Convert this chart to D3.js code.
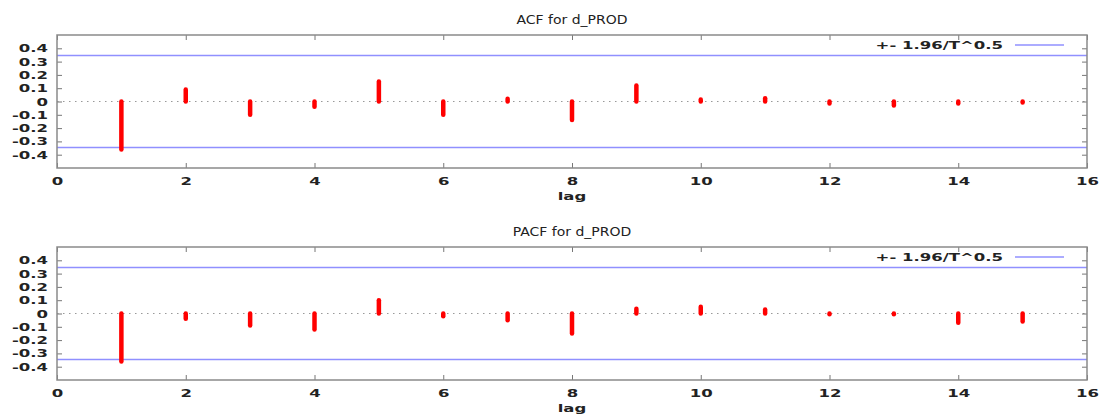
<!DOCTYPE html>
<html>
<head>
<meta charset="utf-8">
<script src="https://cdn.jsdelivr.net/npm/d3@7"></script>
<style>
  body { margin: 0; background: #fff; }
  text { font-family: "DejaVu Sans", sans-serif; fill: #222; }
</style>
</head>
<body>
<div class="chart-value"></div>
<script>
var lags = [1, 2, 3, 4, 5, 6, 7, 8, 9, 10, 11, 12, 13, 14, 15];
var acfValues = [-0.36, 0.09, -0.10, -0.04, 0.15, -0.10, 0.02, -0.14, 0.12, 0.015, 0.025, -0.015, -0.03, -0.015, -0.008];
var pacfValues = [-0.36, -0.04, -0.09, -0.12, 0.10, -0.02, -0.05, -0.15, 0.035, 0.05, 0.03, -0.005, -0.005, -0.07, -0.06];
var xTicks = [0, 2, 4, 6, 8, 10, 12, 14, 16];
var yTicks = [-0.4, -0.3, -0.2, -0.1, 0, 0.1, 0.2, 0.3, 0.4];
var band = 1.96 / Math.sqrt(32);
var legendLabel = "+- 1.96/T^0.5";

var width = 1104, height = 417;
var left = 57, right = 1087;
var stretch = 1.5;

let svg = d3.select(".chart-value")
    .append("svg")
    .attr("width", width)
    .attr("height", height);

let x = d3.scaleLinear()
    .domain([0, 16])
    .range([left, right]);

// text in the reference is wide, so squash it out horizontally
function wideText(g, px, py, s){
    return g.append("text")
        .attr("transform", "translate(" + px + "," + py + ") scale(" + s + ",1)");
}

function drawPanel(title, values, top){
    let bottom = top + 133;
    let y = d3.scaleLinear()
        .domain([-0.5, 0.5])
        .range([bottom, top]);

    let g = svg.append("g");

    // title
    wideText(g, (left + right) / 2, top - 11, 1.12)
        .attr("text-anchor", "middle")
        .style("font-size", "12.5px")
        .attr("fill", "#333")
        .text(title);

    // zero line
    g.append("line")
        .attr("x1", left).attr("x2", right)
        .attr("y1", y(0)).attr("y2", y(0))
        .attr("stroke", "#999")
        .attr("stroke-width", 1)
        .attr("stroke-dasharray", "1.5 4.5");

    // confidence band
    [band, -band].forEach(function(b){
        g.append("line")
            .attr("x1", left).attr("x2", right)
            .attr("y1", y(b)).attr("y2", y(b))
            .attr("stroke", "#9090ff")
            .attr("stroke-width", 1.5);
    });

    // axes, ticks inside, mirrored
    let yLeft = d3.axisLeft(y).tickValues(yTicks).tickSize(-5).tickPadding(9)
        .tickFormat(function(d){ return d === 0 ? "0" : d3.format(".1f")(d).replace("\u2212", "-"); });
    let yRight = d3.axisRight(y).tickValues(yTicks).tickSize(-5).tickFormat("");
    let xBottom = d3.axisBottom(x).tickValues(xTicks).tickSize(-5).tickPadding(9);
    let xTop = d3.axisTop(x).tickValues(xTicks).tickSize(-5).tickFormat("");

    g.append("g").attr("transform", "translate(" + left + ",0)").call(yLeft);
    g.append("g").attr("transform", "translate(" + right + ",0)").call(yRight);
    g.append("g").attr("transform", "translate(0," + bottom + ")").call(xBottom);
    g.append("g").attr("transform", "translate(0," + top + ")").call(xTop);

    g.selectAll(".domain").remove();
    g.selectAll(".tick line").attr("stroke", "#777");
    g.selectAll(".tick text")
        .style("font-size", "11px")
        .style("font-weight", "bold")
        .attr("fill", "#333")
        .attr("x", function(){ return (+d3.select(this).attr("x") || 0) / stretch; })
        .attr("transform", "scale(" + stretch + ",1)");

    g.append("rect")
        .attr("x", left).attr("y", top)
        .attr("width", right - left).attr("height", bottom - top)
        .attr("fill", "none")
        .attr("stroke", "#8a8a8a")
        .attr("stroke-width", 1.5);

    // x label
    wideText(g, (left + right) / 2, bottom + 32, stretch)
        .attr("text-anchor", "middle")
        .style("font-size", "11px")
        .style("font-weight", "bold")
        .attr("fill", "#333")
        .text("lag");

    // legend
    wideText(g, 1003, top + 14, stretch)
        .attr("text-anchor", "end")
        .style("font-size", "11px")
        .style("font-weight", "bold")
        .attr("fill", "#333")
        .text(legendLabel);
    g.append("line")
        .attr("x1", 1015).attr("x2", 1064)
        .attr("y1", top + 10).attr("y2", top + 10)
        .attr("stroke", "#9090ff")
        .attr("stroke-width", 1.5);

    // spikes
    g.selectAll(".spike")
        .data(lags)
        .enter()
        .append("line")
        .attr("class", "spike")
        .attr("x1", function(d){ return x(d); })
        .attr("x2", function(d){ return x(d); })
        .attr("y1", y(0))
        .attr("y2", function(d, i){ return y(values[i]); })
        .attr("stroke", "red")
        .attr("stroke-width", 4.5)
        .attr("stroke-linecap", "round");
}

drawPanel("ACF for d_PROD", acfValues, 35);
drawPanel("PACF for d_PROD", pacfValues, 247);
</script>
</body>
</html>
